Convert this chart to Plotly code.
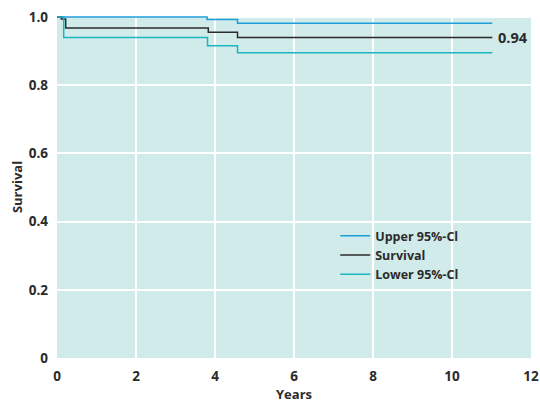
import plotly.graph_objects as go

# Step-function data (time in years, survival probability)
upper_t = [0, 3.80, 4.57, 11.02]
upper_s = [1.0, 0.993, 0.982, 0.982]

surv_t = [0, 0.11, 0.22, 3.83, 4.57, 11.02]
surv_s = [1.0, 0.994, 0.968, 0.955, 0.94, 0.94]

lower_t = [0, 0.17, 3.81, 4.57, 11.02]
lower_s = [1.0, 0.94, 0.916, 0.895, 0.895]

x_ticks = [0, 2, 4, 6, 8, 10, 12]
y_ticks = [0, 0.2, 0.4, 0.6, 0.8, 1.0]
y_tick_text = ["0", "0.2", "0.4", "0.6", "0.8", "1.0"]

FONT = "Open Sans"
TXT = "#2b2b2b"

fig = go.Figure()
fig.add_trace(go.Scatter(x=upper_t, y=upper_s, mode="lines", line_shape="hv",
                         name="<b>Upper 95%-Cl</b>", line=dict(color="#1c9fd9", width=1.5)))
fig.add_trace(go.Scatter(x=surv_t, y=surv_s, mode="lines", line_shape="hv",
                         name="<b>Survival</b>", line=dict(color="#2b2b2b", width=1.5)))
fig.add_trace(go.Scatter(x=lower_t, y=lower_s, mode="lines", line_shape="hv",
                         name="<b>Lower 95%-Cl</b>", line=dict(color="#1bb6c1", width=1.5)))

fig.add_annotation(x=surv_t[-1], y=surv_s[-1], text="<b>0.94</b>", showarrow=False,
                   xanchor="left", yanchor="middle", xshift=4,
                   font=dict(family=FONT, size=14.5, color=TXT))

fig.update_layout(
    width=540, height=403,
    margin=dict(l=57, r=9, t=16, b=45),
    paper_bgcolor="white",
    plot_bgcolor="#d1eaea",
    font=dict(family=FONT, size=13, color=TXT),
    showlegend=True,
    legend=dict(x=0.587, y=0.40, xanchor="left", yanchor="top",
                bgcolor="rgba(0,0,0,0)", itemwidth=30, tracegroupgap=0,
                font=dict(family=FONT, size=12.5, color=TXT)),
    xaxis=dict(range=[0, 12], tickvals=x_ticks,
               ticktext=["<b>%d</b>" % v for v in x_ticks],
               showgrid=True, gridcolor="white", automargin=False,
               gridwidth=1.5, zeroline=False, showline=False, ticks="",
               ticklabelstandoff=8, ticklabeloverflow="allow",
               tickfont=dict(family=FONT, size=13.5, color=TXT),
               title=dict(text="<b>Years</b>", font=dict(family=FONT, size=13, color=TXT), standoff=13)),
    yaxis=dict(range=[0, 1.003], tickvals=y_ticks,
               ticktext=["<b>%s</b>" % t for t in y_tick_text], showgrid=True,
               gridcolor="white", gridwidth=1.5, zeroline=False, showline=False, ticks="",
               ticklabelstandoff=8, ticklabeloverflow="allow", automargin=False,
               tickfont=dict(family=FONT, size=13.5, color=TXT),
               title=dict(text="<b>Survival</b>", font=dict(family=FONT, size=13, color=TXT), standoff=3)),
)

fig.write_html("out.html", config={"displayModeBar": False},
               post_script="document.body.style.margin='0';document.body.style.overflow='hidden';")
